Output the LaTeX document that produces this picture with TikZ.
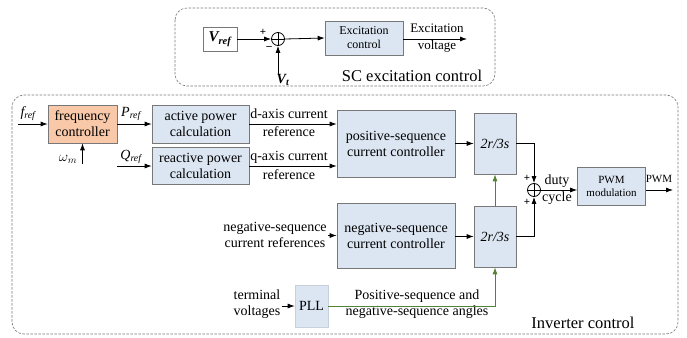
\documentclass[tikz,border=0pt]{standalone}
\usepackage{fontspec}
\setmainfont{Liberation Serif}
\usetikzlibrary{arrows.meta}
\definecolor{boxblue}{RGB}{220,230,242}
\definecolor{boxorange}{RGB}{248,200,168}
\definecolor{pllgreen}{RGB}{84,130,53}
\definecolor{frameg}{RGB}{120,120,120}
\begin{document}
\begin{tikzpicture}[x=1pt,y=-1pt,
  >={Latex[length=7pt,width=5pt]},
  line width=0.8pt,
  fs/.style={font=\fontsize{14}{16}\selectfont},
  box/.style={draw=frameg, line width=0.6pt, fill=boxblue, align=center, inner sep=0pt, fs},
  lbl/.style={align=center, inner sep=1pt, fs},
  sumc/.style={circle, draw, minimum size=13pt, inner sep=0pt},
  frm/.style={draw=frameg, line width=0.6pt, dash pattern=on 2.5pt off 1.5pt, rounded corners=12pt},
  sgn/.style={inner sep=0pt, font=\fontsize{11}{12}\selectfont\bfseries}
]
\useasboundingbox (0,0) rectangle (687,337);

% ---------- SC excitation control ----------
\draw[frm] (175,8) rectangle (495,86);
\node[draw=frameg, line width=0.6pt, minimum width=34pt, minimum height=24pt, inner sep=0pt,
      font=\fontsize{15}{16}\selectfont\bfseries\itshape] (vref) at (220,39) {V\textsubscript{ref}};
\node[sumc] (s1) at (278,39) {};
\draw[line width=0.6pt] (s1.north) -- (s1.south) (s1.west) -- (s1.east);
\node[sgn] (p1) at (263,32) {+};
\node[sgn] (m1) at (269,48) {\textendash};
\coordinate (vt) at (278,74);
\node[inner sep=0pt, font=\fontsize{14}{16}\selectfont\bfseries\itshape] (vtl) at (283,80) {V\textsubscript{t}};
\node[box, font=\fontsize{12}{14}\selectfont, minimum width=78pt, minimum height=34pt] (exc) at (364,38) {Excitation\\control};
\coordinate (excout) at (467,39);
\node[lbl, font=\fontsize{13}{15}\selectfont] (el1) at (437,28) {Excitation};
\node[lbl, font=\fontsize{13}{15}\selectfont] (el2) at (437,46) {voltage};
\node[inner sep=0pt, font=\fontsize{16.5}{18}\selectfont] (sclbl) at (412,76) {SC excitation control};
\draw[->] (vref.east) -- (s1.west);
\draw[->] (vt) -- (s1.south);
\draw[->] (s1.east) -- (exc.west);
\draw[->] (exc.east |- excout) -- (excout);

% ---------- Inverter control ----------
\draw[frm] (12,95) rectangle (678,334);

\node[box, fill=boxorange, minimum width=69pt, minimum height=38pt] (fc) at (82.5,124) {frequency\\controller};
\node[box, minimum width=97pt, minimum height=38pt] (apc) at (200.5,124) {active power\\calculation};
\node[box, minimum width=97pt, minimum height=37pt] (rpc) at (200.5,166) {reactive power\\calculation};
\node[box, minimum width=118pt, minimum height=67pt] (psc) at (396,143.5) {positive-sequence\\current controller};
\node[box, minimum width=118pt, minimum height=65pt] (nsc) at (396,235.5) {negative-sequence\\current controller};
\node[box, minimum width=42pt, minimum height=61pt, font=\fontsize{14}{16}\selectfont\itshape] (t1) at (495,143.5) {2r/3s};
\node[box, minimum width=42pt, minimum height=61pt, font=\fontsize{14}{16}\selectfont\itshape] (t2) at (495,236.5) {2r/3s};
\node[sumc] (s2) at (534,190) {};
\draw[line width=0.6pt] (s2.north) -- (s2.south) (s2.west) -- (s2.east);
\node[sgn] (p2) at (527,178) {+};
\node[sgn] (p3) at (527,202) {+};
\node[box, font=\fontsize{11}{13}\selectfont, minimum width=68pt, minimum height=38pt] (pwm) at (611.5,186) {PWM\\modulation};
\node[box, draw=boxblue!80!frameg, minimum width=33pt, minimum height=42pt] (pll) at (311.5,306) {PLL};

% labels
\node[inner sep=0pt, fs, font=\fontsize{14}{16}\selectfont\itshape] (frefl) at (28,114) {f\textsubscript{ref}};
\coordinate (fin) at (18,124);
\node[inner sep=0pt, font=\fontsize{14}{16}\selectfont\itshape] (prefl) at (131,114) {P\textsubscript{ref}};
\node[inner sep=0pt, font=\fontsize{14}{16}\selectfont] (wml) at (68,159) {$\omega_m$};
\coordinate (wmin) at (82.5,164);
\node[inner sep=0pt, font=\fontsize{14}{16}\selectfont\itshape] (qrefl) at (131,157) {Q\textsubscript{ref}};
\coordinate (qin) at (117,166);
\node[lbl] (dl1) at (289,114) {d-axis current};
\node[lbl] (dl2) at (289,132) {reference};
\node[lbl] (ql1) at (289,157) {q-axis current};
\node[lbl] (ql2) at (289,175) {reference};
\node[lbl] (nref) at (275,235) {negative-sequence\\current references};
\node[lbl] (tv) at (257,304) {terminal\\voltages};
\node[lbl] (angl) at (417,304) {Positive-sequence and\\negative-sequence angles};
\node[lbl] (duty) at (557,181) {duty};
\node[lbl] (cycle) at (557,198) {cycle};
\node[inner sep=0pt, font=\fontsize{11}{12}\selectfont] (pwml) at (659,179) {PWM};
\coordinate (pwmout) at (673,190);
\node[inner sep=0pt, font=\fontsize{16.5}{18}\selectfont] (invl) at (583,323) {Inverter control};

% connectors
\draw[->] (fin) -- (fc.west);
\draw[->] (fc.east) -- (apc.west);
\draw[->] (wmin) -- (fc.south);
\draw[->] (qin) -- (rpc.west);
\draw[->] (apc.east) -- (apc.east -| psc.west);
\draw[->] (rpc.east) -- (rpc.east -| psc.west);
\draw[->] (psc.east) -- (t1.west);
\draw[->] (nsc.east |- t2.west) -- (t2.west);
\draw[->] (nref.east |- nsc.west) -- (nsc.west);
\draw[->] (t1.east) -| (s2.north);
\draw[->] (t2.east) -| (s2.south);
\draw[->] (s2.east) -- (s2.east -| pwm.west);
\draw[->] (pwm.east |- pwmout) -- (pwmout);
\draw[->] (tv.east |- pll.west) -- (pll.west);
\draw[->, pllgreen] (pll.east) -| (t2.south);
\draw[->, pllgreen] (t2.north) -- (t1.south);
\end{tikzpicture}
\end{document}
